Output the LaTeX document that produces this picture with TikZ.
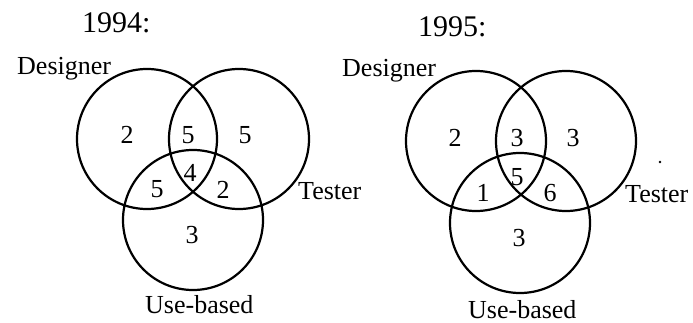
\documentclass[tikz,border=0pt]{standalone}
\usepackage{fontspec}
\setmainfont{Liberation Serif}
\begin{document}
\begin{tikzpicture}[x=1pt,y=-1pt,
  venn/.style={line width=2.2pt},
  lbl/.style={font=\fontsize{26}{30}\selectfont, inner sep=0pt, anchor=base west},
  num/.style={font=\fontsize{26}{30}\selectfont, inner sep=0pt},
  ttl/.style={font=\fontsize{30}{34}\selectfont, inner sep=0pt, anchor=base west}]
\useasboundingbox (0,0) rectangle (693,323);
% ---- 1994 ----
\node[ttl] (t94) at (82,33) {1994:};
\draw[venn] (147,139) circle[radius=70];
\draw[venn] (239,139) circle[radius=70];
\draw[venn] (193,220) circle[radius=70];
\node[lbl] (d94) at (17,75) {Designer};
\node[lbl] (te94) at (298,200) {Tester};
\node[lbl] (u94) at (145,313) {Use-based};
\node[num] (a1) at (127,135) {2};
\node[num] (a2) at (188,135) {5};
\node[num] (a3) at (245,135) {5};
\node[num] (a4) at (190,173) {4};
\node[num] (a5) at (157,189) {5};
\node[num] (a6) at (223,190) {2};
\node[num] (a7) at (192,235) {3};
% ---- 1995 ----
\node[ttl] (t95) at (418,37) {1995:};
\draw[venn] (476,141) circle[radius=70];
\draw[venn] (566,141) circle[radius=70];
\draw[venn] (520,223) circle[radius=70];
\node[lbl] (d95) at (342,77) {Designer};
\node[lbl] (te95) at (625,203) {Tester};
\node[lbl] (u95) at (468,318) {Use-based};
\node[num] (b1) at (455,138) {2};
\node[num] (b2) at (517,138) {3};
\node[num] (b3) at (573,138) {3};
\node[num] (b4) at (517,177) {5};
\node[num] (b5) at (483,193) {1};
\node[num] (b6) at (550,193) {6};
\node[num] (b7) at (519,238) {3};
\fill (660,162) circle[radius=1.4];
\end{tikzpicture}
\end{document}
